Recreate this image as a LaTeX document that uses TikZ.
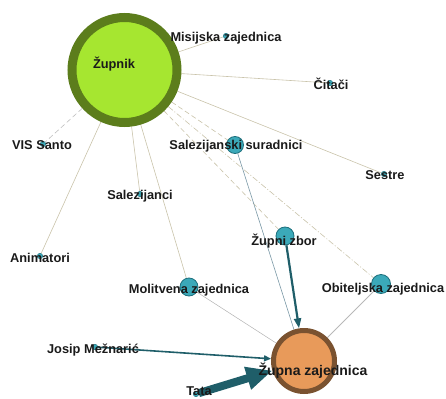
\documentclass[tikz,border=0pt]{standalone}
\usepackage{fontspec}
\setmainfont{Liberation Sans}
\usetikzlibrary{arrows.meta,backgrounds}
\definecolor{ink}{HTML}{1A1A1A}
\definecolor{lime}{HTML}{A6E630}
\definecolor{limering}{HTML}{5C7D1C}
\definecolor{peach}{HTML}{E89A5A}
\definecolor{peachring}{HTML}{7A5230}
\definecolor{teal}{HTML}{3BA9B9}
\definecolor{tealring}{HTML}{1D6F7C}
\definecolor{tealdark}{HTML}{1F5E69}
\definecolor{edge}{HTML}{C9C3AA}
\definecolor{edgeblue}{HTML}{7A98A6}

\begin{document}
\begin{tikzpicture}[
  x=1pt, y=-1pt,
  font=\bfseries\fontsize{12.8}{14}\selectfont,
  hub/.style={circle, fill=lime, draw=limering, line width=9pt, minimum size=105pt, inner sep=0pt},
  sink/.style={circle, fill=peach, draw=peachring, line width=5pt, minimum size=61pt, inner sep=0pt},
  grp/.style={circle, fill=teal, draw=tealring, line width=.8pt, minimum size=#1, inner sep=0pt},
  grp/.default=17pt,
  dot/.style={circle, fill=teal, draw=tealring, line width=.4pt, minimum size=5.5pt, inner sep=0pt},
  lbl/.style={text=ink, inner sep=0pt},
  tie/.style={draw=edge, line width=.6pt},
  tiedash/.style={tie, dash pattern=on 5pt off 3pt},
  tiedot/.style={tie, dash pattern=on 6pt off 2pt on 1pt off 2pt},
  flow/.style={draw=tealdark, line width=#1},
]
\useasboundingbox (0,0) rectangle (446,398);

%% ---------------- nodes ----------------
\node[hub]  (zup) at (124.5,70) {};
\node[sink] (zaj) at (304,361) {};

\node[grp=17pt] (sur) at (235,145) {};
\node[grp=18pt] (zbo) at (285,236) {};
\node[grp=18pt] (mol) at (189,287) {};
\node[grp=19pt] (obi) at (381,284) {};

\node[dot] (mis) at (226,36) {};
\node[dot] (cit) at (330,83) {};
\node[dot] (vis) at (43,144) {};
\node[dot] (ses) at (384,174) {};
\node[dot] (sal) at (140,194) {};
\node[dot] (ani) at (40,256) {};
\node[dot] (jos) at (95,347) {};
\node[dot] (tat) at (196,394) {};

%% ---------------- labels ----------------
\node[lbl] at (114,64)  {Župnik};
\node[lbl] at (226,38)  {Misijska zajednica};
\node[lbl] at (331,84)  {Čitači};
\node[lbl] at (42,145)  {VIS Santo};
\node[lbl] at (236,146) {Salezijanski suradnici};
\node[lbl] at (385,175) {Sestre};
\node[lbl] at (140,196) {Salezijanci};
\node[lbl] at (40,258)  {Animatori};
\node[lbl] at (284,241) {Župni zbor};
\node[lbl] at (189,290) {Molitvena zajednica};
\node[lbl] at (383,289) {Obiteljska zajednica};
\node[lbl] at (93,350)  {Josip Mežnarić};
\node[lbl, font=\bfseries\fontsize{14}{16}\selectfont] at (313,371) {Župna zajednica};
\node[lbl] at (199,391.5) {Tata};

%% ---------------- ties (behind) ----------------
\begin{scope}[on background layer]
  \draw[tie] (zup) -- (mis);
  \draw[tie] (zup) -- (cit);
  \draw[tie] (zup) -- (ses);
  \draw[tie] (zup) -- (ani);
  \draw[tie] (zup) -- (sal);
  \draw[tie] (zup) -- (mol);
  \draw[tiedash, draw=black!25] (zup) -- (vis);
  \draw[tiedash] (zup) -- (sur);
  \draw[tiedash] (zup) -- (zbo);
  \draw[tiedot]  (zup) -- (obi);

  \draw[tie, draw=black!30, line width=.5pt] (mol) -- (zaj);
  \draw[tie, draw=black!28, line width=.8pt] (obi) -- (zaj);
  \draw[tie, draw=edgeblue, line width=.6pt] (sur) -- (zaj);

  %% weighted flows into the parish
  \draw[flow=1.6pt, -{Triangle[length=7pt, width=6pt]}] (jos) -- (zaj);
  \draw[flow=2.2pt, -{Triangle[length=10pt, width=7pt]}] (zbo) -- (zaj);
  \draw[flow=8pt, -{Triangle[length=26pt, width=22pt]}] (tat) -- (zaj);
\end{scope}

\end{tikzpicture}
\end{document}
